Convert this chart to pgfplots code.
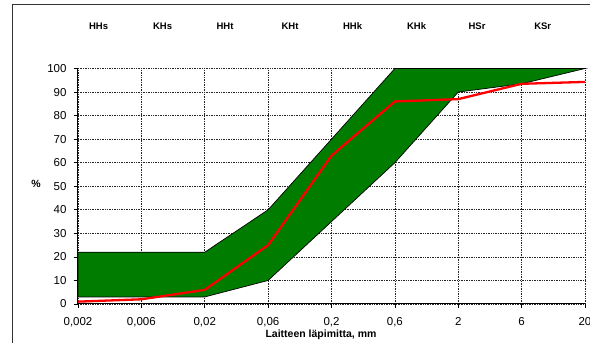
\documentclass[border=0pt]{standalone}
\usepackage{fontspec}
\setmainfont{Liberation Sans}
\usepackage{pgfplots}
\pgfplotsset{compat=1.18}
\definecolor{bandgreen}{RGB}{0,124,0}
\begin{document}
\begin{tikzpicture}[x=1pt,y=1pt]
% outer frame
\draw[black!80, line width=0.8pt] (12.5,343-350) -- (12.5,343-4.5) -- (600,343-4.5);
\begin{axis}[
  at={(78pt,39pt)}, anchor=south west,
  scale only axis, width=507pt, height=235.5pt,
  xmin=0, xmax=8, ymin=0, ymax=100,
  xtick={0,...,8},
  xticklabels={{0,002},{0,006},{0,02},{0,06},{0,2},{0,6},{2},{6},{20}},
  ytick={0,10,...,100},
  /pgf/number format/assume math mode=true,
  tick label style={font=\fontsize{11.5}{13}\selectfont},
  xticklabel style={yshift=-6pt},
  yticklabel style={xshift=-4pt},
  tick align=outside, major tick length=4pt,
  axis x line*=bottom, axis y line*=left,
  axis line style={black, line width=1pt, -},
  tick style={black, line width=0.7pt},
  grid=major,
  major grid style={black!85, line width=0.7pt, dash pattern=on 1pt off 0.7pt},
  clip=false,
]
\addplot[fill=bandgreen, draw=black, line width=0.7pt] coordinates {
  (0,22)(1,22)(2,22)(3,40)(4,70)(5,100)(6,100)(7,100)(8,100)
  (8,100)(7,93.5)(6,90)(5,60)(4,35)(3,10)(2,3)(1,3)(0,3)
} -- cycle;
\addplot[red, line width=2.3pt] coordinates {
  (0,1)(1,2)(2,6)(3,25)(4,63)(5,86)(6,87)(7,93.5)(8,94.3)
};
\end{axis}
% category labels at top
\foreach \lab/\xx in {HHs/98.6,KHs/162.6,HHt/225,KHt/290,HHk/352.6,KHk/416.6,HSr/477,KSr/542.7}
  \node[font=\fontsize{9.5}{11}\selectfont\bfseries] at (\xx,343-26) {\lab};
\node[font=\fontsize{10.5}{12}\selectfont\bfseries] at (36,343-184) {\%};
\node[font=\fontsize{10.5}{12}\selectfont\bfseries] at (321,343-335) {Laitteen läpimitta, mm};
\pgfresetboundingbox
\useasboundingbox (0,0) rectangle (590,343);
\end{tikzpicture}
\end{document}
